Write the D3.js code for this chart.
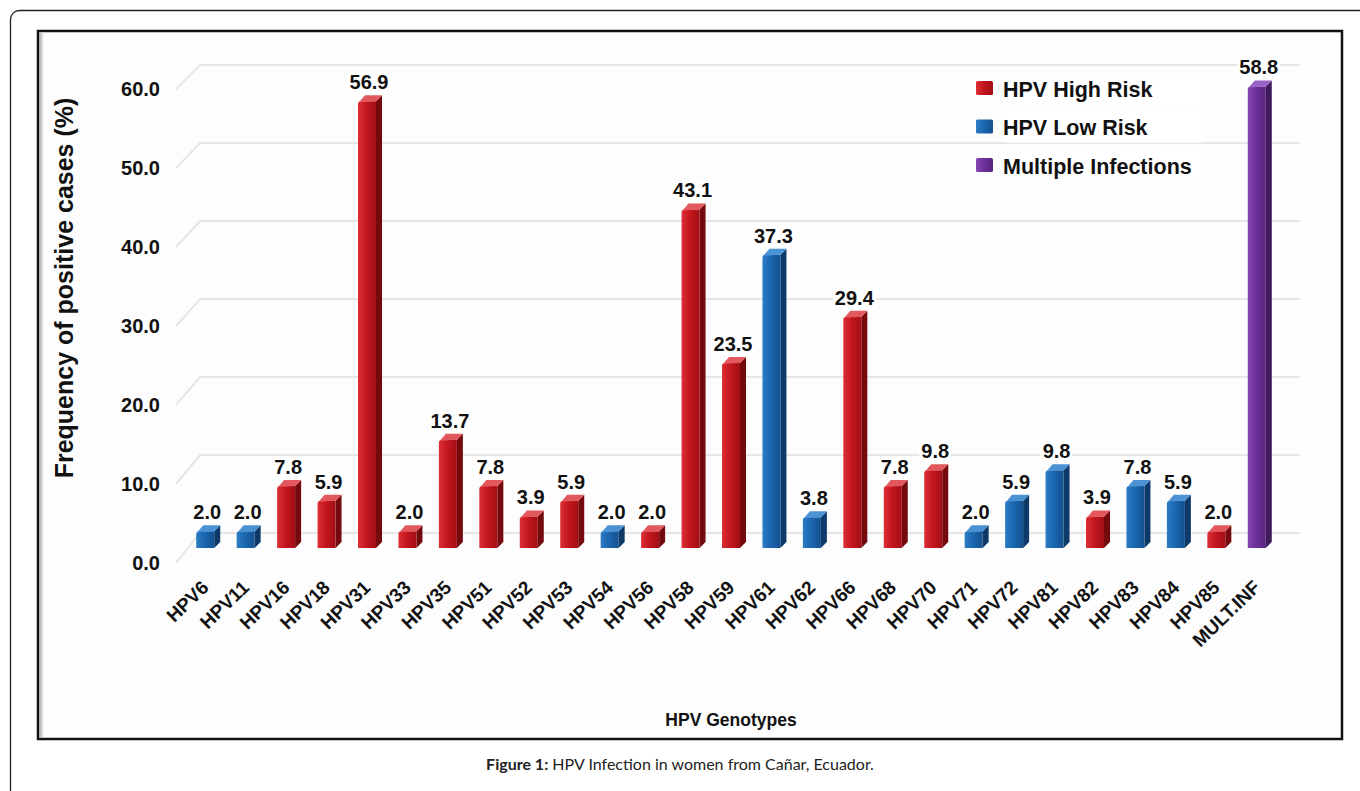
<!DOCTYPE html>
<html>
<head>
<meta charset="utf-8">
<script src="https://cdn.jsdelivr.net/npm/d3@7"></script>
<style>
  body { margin: 0; background: #fff; }
  svg { display: block; }
</style>
</head>
<body>
<script>
var genotypes = ["HPV6","HPV11","HPV16","HPV18","HPV31","HPV33","HPV35","HPV51","HPV52","HPV53","HPV54","HPV56","HPV58","HPV59","HPV61","HPV62","HPV66","HPV68","HPV70","HPV71","HPV72","HPV81","HPV82","HPV83","HPV84","HPV85","MULT.INF"];
var frequency = [2.0,2.0,7.8,5.9,56.9,2.0,13.7,7.8,3.9,5.9,2.0,2.0,43.1,23.5,37.3,3.8,29.4,7.8,9.8,2.0,5.9,9.8,3.9,7.8,5.9,2.0,58.8];
var riskGroup = ["low","low","high","high","high","high","high","high","high","high","low","high","high","high","low","low","high","high","high","low","low","low","high","low","low","high","multi"];
var yTicks = [0,10,20,30,40,50,60];
var legendKeys = ["high","low","multi"];
var legendLabels = ["HPV High Risk","HPV Low Risk","Multiple Infections"];

var W = 1360, H = 791;
var svg = d3.select("body").append("svg").attr("width", W).attr("height", H);
var defs = svg.append("defs");
var font = "Liberation Sans, Arial, sans-serif";

// colours per group: front gradient stops, side, top
var pal = {
  high:  {l:"#dc3036", m:"#c4161d", r:"#a10f15", side:"#740a0e", top:"#e2585c"},
  low:   {l:"#2c7cc4", m:"#1b67b0", r:"#14508f", side:"#0d3a69", top:"#4a92d4"},
  multi: {l:"#8444b3", m:"#6e3199", r:"#58247c", side:"#3f1a5b", top:"#9a62c4"}
};
Object.keys(pal).forEach(function(k){
  var g = defs.append("linearGradient").attr("id","grad-"+k).attr("x1","0").attr("x2","1").attr("y1","0").attr("y2","0");
  g.append("stop").attr("offset","0%").attr("stop-color",pal[k].l);
  g.append("stop").attr("offset","45%").attr("stop-color",pal[k].m);
  g.append("stop").attr("offset","100%").attr("stop-color",pal[k].r);
});
var shade = defs.append("linearGradient").attr("id","leftShade").attr("x1","0").attr("x2","1");
shade.append("stop").attr("offset","0").attr("stop-color","#9a9a9a");
shade.append("stop").attr("offset","1").attr("stop-color","#ffffff").attr("stop-opacity",0);

// outer page frame
svg.append("rect").attr("x",10.5).attr("y",10.5).attr("width",1420).attr("height",900)
  .attr("rx",9).attr("fill","none").attr("stroke","#222").attr("stroke-width",1.3);

// inner chart frame
svg.append("rect").attr("x",38).attr("y",31).attr("width",1304).attr("height",708)
  .attr("fill","#fdfdfd").attr("stroke","#111").attr("stroke-width",2.5);
svg.append("rect").attr("x",39.5).attr("y",32.5).attr("width",6).attr("height",705)
  .attr("fill","url(#leftShade)");

// scales
var x = d3.scaleBand().domain(genotypes).range([188, 1280]).padding(0);
var yTop = d3.scaleLinear().domain([0,60]).range([541, 71]);   // top of bar
var yBack = d3.scaleLinear().domain([0,60]).range([533, 65]);  // back wall grid
var yLab = d3.scaleLinear().domain([0,60]).range([563, 89]);   // axis labels
var base = 548;

// grid (3D back wall)
var grid = svg.append("g");
yTicks.forEach(function(v){
  grid.append("path")
    .attr("d", "M176," + yLab(v) + "L200," + yBack(v) + "H1300")
    .attr("fill","none").attr("stroke","#e6e6e6").attr("stroke-width",2);
});

// y tick labels
svg.append("g").selectAll("text").data(yTicks).join("text")
  .attr("x",160).attr("y", function(d){ return yLab(d); })
  .attr("dy","0.35em").attr("text-anchor","end")
  .style("font-family",font).style("font-weight","bold")
  .style("font-size","20px").attr("fill","#111")
  .text(function(d){ return d3.format(".1f")(d); });

// y axis title
svg.append("text")
  .attr("transform","translate(73,288) rotate(-90)")
  .attr("text-anchor","middle")
  .style("font-family",font).style("font-weight","bold")
  .style("font-size","25px").attr("fill","#111")
  .text("Frequency of positive cases (%)");

// bars
var fw = 18, dp = 6;
var bars = svg.append("g").selectAll("g").data(genotypes).join("g");
bars.each(function(d, i){
  var g = d3.select(this);
  var c = x(d) + x.bandwidth()/2;
  var x0 = c - 12;
  var t = yTop(frequency[i]);
  var k = riskGroup[i];
  // side face
  g.append("path")
    .attr("d","M"+(x0+fw)+","+(t+dp)+"L"+(x0+fw+dp)+","+t+"L"+(x0+fw+dp)+","+(base-dp)+"L"+(x0+fw)+","+base+"Z")
    .attr("fill",pal[k].side);
  // front face
  g.append("path")
    .attr("d","M"+x0+","+base+"V"+(t+dp+3)+"Q"+x0+","+(t+dp)+" "+(x0+3)+","+(t+dp)+"H"+(x0+fw)+"V"+base+"Z")
    .attr("fill","url(#grad-"+k+")");
  // top face
  g.append("path")
    .attr("d","M"+(x0+1)+","+(t+dp+1)+"L"+(x0+dp+1)+","+t+"H"+(x0+fw+dp)+"L"+(x0+fw)+","+(t+dp)+"Z")
    .attr("fill",pal[k].top);
});

// value labels with white boxes
var valFmt = d3.format(".1f");
var lab = svg.append("g").selectAll("g").data(genotypes).join("g");
lab.each(function(d, i){
  var g = d3.select(this);
  var c = x(d) + x.bandwidth()/2 - 1;
  var t = yTop(frequency[i]) - 6;
  var tx = g.append("text")
    .attr("x", c).attr("y", t).attr("text-anchor","middle")
    .style("font-family",font).style("font-weight","bold")
    .style("font-size","20px").attr("fill","#111")
    .text(valFmt(frequency[i]));
  var bb = tx.node().getBBox();
  g.insert("rect","text").attr("x",bb.x-2).attr("y",bb.y+1).attr("width",bb.width+4).attr("height",bb.height-1)
    .attr("fill","#fff");
});

// x tick labels
svg.append("g").selectAll("text").data(genotypes).join("text")
  .attr("transform", function(d){ return "translate(" + (x(d) + x.bandwidth()/2 - 3) + ",584) rotate(-44)"; })
  .attr("text-anchor","end").attr("dy","0.35em")
  .style("font-family",font).style("font-weight","bold")
  .style("font-size","19px").attr("fill","#111")
  .text(function(d){ return d; });

// x axis title
svg.append("text").attr("x",731).attr("y",726).attr("text-anchor","middle")
  .style("font-family",font).style("font-weight","bold")
  .style("font-size","17.5px").attr("fill","#111")
  .text("HPV Genotypes");

// legend
var leg = svg.append("g").selectAll("g").data(legendKeys).join("g")
  .attr("transform", function(d, i){ return "translate(976," + (89 + i*38.5) + ")"; });
leg.append("rect").attr("x",26).attr("y",-15).attr("width",200).attr("height",30).attr("fill","#fff");
leg.append("rect").attr("x",0).attr("y",-8).attr("width",17).attr("height",14).attr("rx",1.5)
  .attr("fill", function(d){ return "url(#grad-" + d + ")"; });
leg.append("text").attr("x",27).attr("y",0).attr("dy","0.35em")
  .style("font-family",font).style("font-weight","bold")
  .style("font-size","21.5px").attr("fill","#111")
  .text(function(d, i){ return legendLabels[i]; });

// caption
var cap = svg.append("text").attr("x",680).attr("y",770).attr("text-anchor","middle")
  .style("font-family","Lato, sans-serif").style("font-size","16px").attr("fill","#222");
cap.append("tspan").style("font-weight","bold").text("Figure 1:");
cap.append("tspan").text(" HPV Infection in women from Cañar, Ecuador.");
</script>
</body>
</html>
